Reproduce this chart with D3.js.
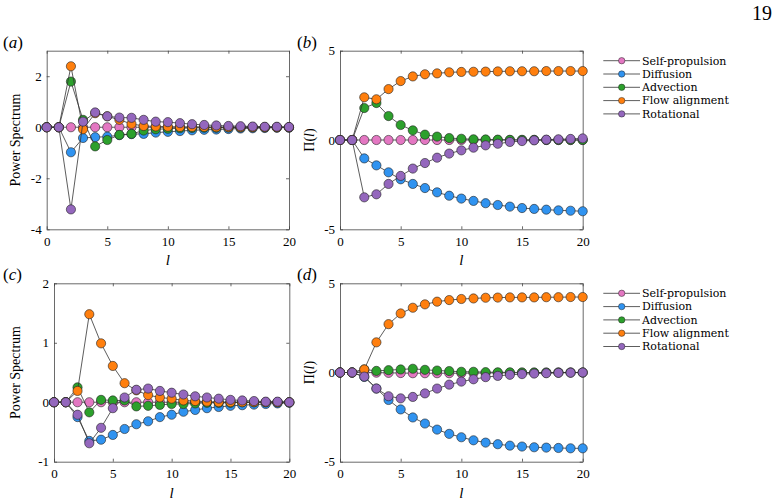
<!DOCTYPE html>
<html><head><meta charset="utf-8">
<script src="https://cdn.jsdelivr.net/npm/d3@7"></script>
<style>body{margin:0;background:#fff}svg{display:block}text{font-family:"Liberation Serif","DejaVu Serif",serif;fill:#000}</style>
</head><body><svg id="c" width="777" height="504"></svg>
<script>
const ell = d3.range(0, 21);
const seriesNames = ["Self-propulsion","Diffusion","Advection","Flow alignment","Rotational"];
const seriesColors = ["#e377c2","#3093f0","#2ca02c","#ff7f0e","#9467bd"];

// Panel (a): power spectrum
const aSelf = [0,0,0,0,0,0,0,0,0,0,0,0,0,0,0,0,0,0,0,0,0];
const aDiff = [0,0,-0.98,-0.42,-0.39,-0.37,-0.31,-0.27,-0.26,-0.21,-0.18,-0.15,-0.12,-0.1,-0.09,-0.07,-0.05,-0.04,-0.03,-0.02,-0.02];
const aAdv  = [0,0,1.79,0.29,-0.75,-0.5,-0.3,-0.26,-0.13,-0.08,-0.06,-0.04,-0.03,-0.02,-0.02,-0.01,-0.01,0,0,0,0];
const aFlow = [0,0,2.39,-0.08,0.55,0.43,0.29,0.13,0.05,0.03,0.02,0.01,0.01,0.01,0,0,0,0,0,0,0];
const aRot  = [0,0,-3.22,0.22,0.58,0.43,0.38,0.37,0.29,0.22,0.2,0.16,0.12,0.09,0.07,0.05,0.04,0.03,0.02,0.02,0.01];

// Panel (b): cumulative Pi(l)
const bSelf = [0,0,0,0,0,0,0,0,0,0,0,0,0,0,0,0,0,0,0,0,0];
const bDiff = [0,0,-1.03,-1.42,-1.81,-2.2,-2.46,-2.69,-2.93,-3.12,-3.28,-3.41,-3.54,-3.64,-3.73,-3.81,-3.86,-3.9,-3.94,-3.96,-3.99];
const bAdv  = [0,0,1.79,2.07,1.34,0.84,0.54,0.3,0.19,0.11,0.07,0.04,0.03,0.02,0.01,0.01,0.01,0,0,0,0];
const bFlow = [0,0,2.39,2.28,2.85,3.3,3.56,3.68,3.73,3.79,3.81,3.82,3.83,3.84,3.85,3.85,3.85,3.86,3.86,3.86,3.86];
const bRot  = [0,0,-3.21,-3.04,-2.46,-2.01,-1.6,-1.29,-0.99,-0.76,-0.58,-0.43,-0.3,-0.21,-0.11,-0.06,-0.02,0.02,0.04,0.06,0.09];

// Panel (c): power spectrum
const cSelf = [0,0,0,0,0,0,0,0,0,0,0,0,0,0,0,0,0,0,0,0,0];
const cDiff = [0,0,-0.25,-0.65,-0.63,-0.55,-0.45,-0.37,-0.32,-0.25,-0.21,-0.16,-0.13,-0.1,-0.08,-0.06,-0.05,-0.04,-0.03,-0.02,-0.01];
const cAdv  = [0,0,0.25,-0.17,0.04,0.03,0.03,-0.07,-0.06,-0.045,-0.03,-0.03,-0.02,-0.01,-0.01,-0.01,0,0,0,0,0];
const cFlow = [0,0,0.19,1.48,0.99,0.61,0.32,0.2,0.12,0.08,0.06,0.03,0.02,0.01,0,0,0,0,0,0,0];
const cRot  = [0,0,-0.21,-0.69,-0.43,-0.1,0.08,0.21,0.23,0.19,0.16,0.13,0.1,0.08,0.06,0.04,0.03,0.02,0.01,0.01,0];

// Panel (d): cumulative Pi(l)
const dSelf = [0,0,0,-0.01,-0.02,-0.03,-0.04,-0.04,-0.04,-0.04,-0.04,-0.03,-0.03,-0.02,-0.02,-0.01,-0.01,-0.01,0,0,0];
const dDiff = [0,0,-0.25,-0.9,-1.54,-2.07,-2.52,-2.86,-3.2,-3.44,-3.63,-3.8,-3.93,-4.02,-4.1,-4.15,-4.19,-4.21,-4.23,-4.25,-4.25];
const dAdv  = [0,0,0.17,0.09,0.13,0.17,0.21,0.15,0.11,0.08,0.04,0.04,0.02,0.01,0.01,0,0,0,0,0,0];
const dFlow = [0,0,0.17,1.69,2.71,3.31,3.63,3.82,3.97,4.06,4.12,4.15,4.19,4.2,4.21,4.21,4.21,4.22,4.22,4.23,4.23];
const dRot  = [0,0,-0.23,-0.9,-1.33,-1.45,-1.37,-1.17,-0.9,-0.68,-0.51,-0.38,-0.26,-0.19,-0.13,-0.09,-0.06,-0.04,-0.02,-0.01,0];

const xTicks = [0,5,10,15,20];
const yTicksA = [-4,-2,0,2];
const yTicksB = [-5,0,5];
const yTicksC = [-1,0,1,2];
const yTicksD = [-5,0,5];

const panels = [
  {tag:"(a)", ylab:"Power Spectrum", series:[aSelf,aDiff,aAdv,aFlow,aRot], ydom:[-4,3], yt:yTicksA,
   x0:46.7, x1:289, y0:50.7, y1:229.3, legend:false},
  {tag:"(b)", ylab:"Π(l)", series:[bSelf,bDiff,bAdv,bFlow,bRot], ydom:[-5,5], yt:yTicksB,
   x0:340, x1:582.7, y0:50.7, y1:229.3, legend:true, ly:60.7},
  {tag:"(c)", ylab:"Power Spectrum", series:[cSelf,cDiff,cAdv,cFlow,cRot], ydom:[-1,2], yt:yTicksC,
   x0:54, x1:289.3, y0:283.3, y1:461.7, legend:false},
  {tag:"(d)", ylab:"Π(l)", series:[dSelf,dDiff,dAdv,dFlow,dRot], ydom:[-5,5], yt:yTicksD,
   x0:340, x1:582.7, y0:283.3, y1:461.7, legend:true, ly:293.3}
];

const svg = d3.select("#c");
svg.append("text").attr("x",772).attr("y",20).attr("text-anchor","end").style("font-size","20px").text("19");

const axisColor = "#444";
panels.forEach((p, pi) => {
  const x = d3.scaleLinear().domain([0,20]).range([p.x0, p.x1]);
  const y = d3.scaleLinear().domain(p.ydom).range([p.y1, p.y0]);
  const g = svg.append("g");
  const fmt = d => String(d);
  const styleAxis = sel => {
    sel.select(".domain").attr("stroke", axisColor).attr("stroke-width",0.8);
    sel.selectAll(".tick line").attr("stroke", axisColor).attr("stroke-width",0.8);
    sel.selectAll(".tick text").style("font-family",'"Liberation Serif",serif').style("font-size","13px").attr("fill","#222");
  };
  g.append("g").attr("transform",`translate(0,${p.y1})`)
    .call(d3.axisBottom(x).tickValues(xTicks).tickFormat(fmt).tickSizeInner(-3).tickSizeOuter(0).tickPadding(7)).call(styleAxis);
  g.append("g").attr("transform",`translate(0,${p.y0})`)
    .call(d3.axisTop(x).tickValues(xTicks).tickFormat("").tickSizeInner(-3).tickSizeOuter(0)).call(styleAxis);
  g.append("g").attr("transform",`translate(${p.x0},0)`)
    .call(d3.axisLeft(y).tickValues(p.yt).tickFormat(fmt).tickSizeInner(-3).tickSizeOuter(0).tickPadding(5)).call(styleAxis);
  g.append("g").attr("transform",`translate(${p.x1},0)`)
    .call(d3.axisRight(y).tickValues(p.yt).tickFormat("").tickSizeInner(-3).tickSizeOuter(0)).call(styleAxis);

  const line = d3.line().x((d,i)=>x(ell[i])).y(d=>y(d));
  p.series.forEach((s, si) => {
    const sg = g.append("g");
    sg.append("path").attr("d", line(s)).attr("fill","none").attr("stroke","#333").attr("stroke-width",0.8);
    sg.selectAll("circle").data(s).join("circle")
      .attr("cx",(d,i)=>x(ell[i])).attr("cy",d=>y(d)).attr("r",4.6)
      .attr("fill",seriesColors[si]).attr("stroke","#222").attr("stroke-width",0.6);
  });

  // panel tag
  const tx = pi % 2 === 0 ? 3 : 297;
  const t = svg.append("text").attr("x",tx).attr("y",p.y0-3).style("font-size","17px");
  t.append("tspan").text("(");
  t.append("tspan").style("font-style","italic").text(p.tag[1]);
  t.append("tspan").text(")");

  // y label
  const ylx = pi % 2 === 0 ? 20 : 314;
  const yl = svg.append("text").attr("transform",`translate(${ylx},${(p.y0+p.y1)/2}) rotate(-90)`)
    .attr("text-anchor","middle").style("font-size","14px");
  if (p.ylab.startsWith("Π")) {
    yl.append("tspan").text("Π(");
    yl.append("tspan").style("font-style","italic").text("l");
    yl.append("tspan").text(")");
  } else yl.text(p.ylab);

  // x label
  svg.append("text").attr("x",(p.x0+p.x1)/2).attr("y",p.y1+36).attr("text-anchor","middle")
    .style("font-size","15px").style("font-style","italic").text("l");

  if (p.legend) {
    seriesNames.forEach((n, si) => {
      const ly = p.ly + si*13.3;
      const lg = svg.append("g");
      lg.append("line").attr("x1",603.3).attr("x2",640).attr("y1",ly).attr("y2",ly).attr("stroke","#333").attr("stroke-width",0.8);
      lg.append("circle").attr("cx",621.7).attr("cy",ly).attr("r",3.2).attr("fill",seriesColors[si]).attr("stroke","#222").attr("stroke-width",0.5);
      lg.append("text").attr("x",642).attr("y",ly).attr("dy","0.35em")
        .style("font-family",'"DejaVu Serif",serif').style("font-size","11px").text(n);
    });
  }
});
</script></body></html>
